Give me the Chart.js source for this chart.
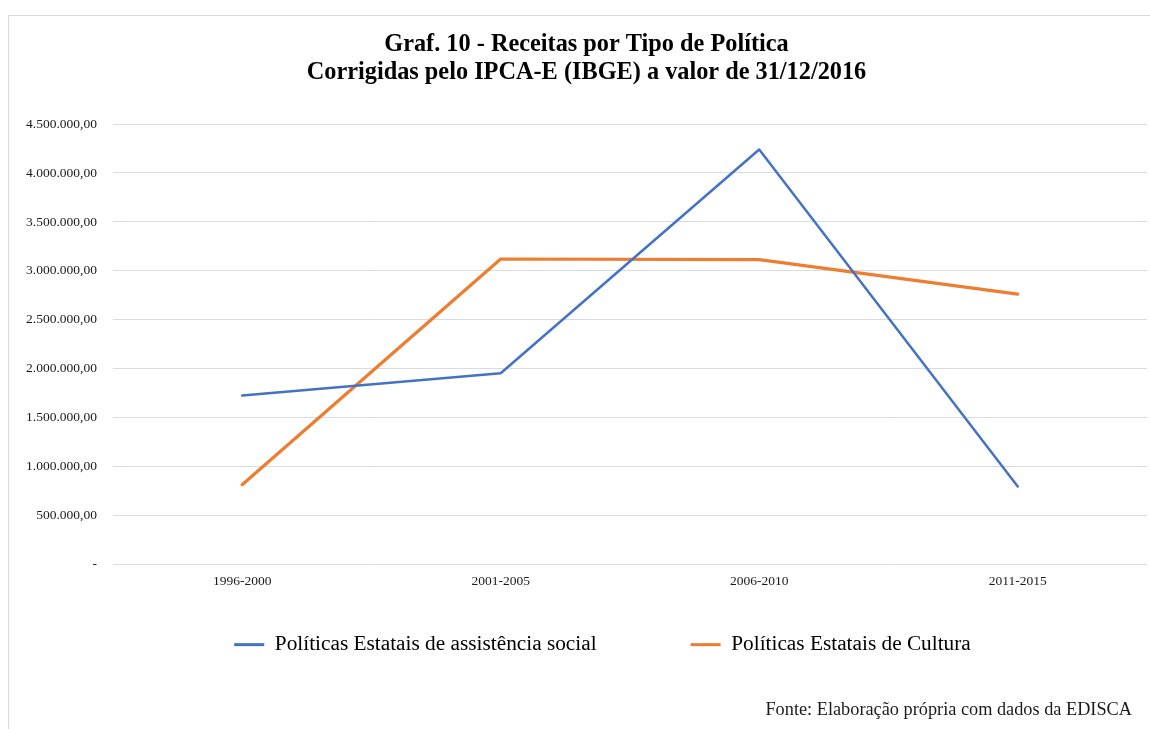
<!DOCTYPE html>
<html>
<head>
<meta charset="utf-8">
<script src="https://cdn.jsdelivr.net/npm/chart.js@4.4.1/dist/chart.umd.min.js"></script>
<style>
  html, body { margin: 0; padding: 0; background: #fff; }
  body { width: 1150px; height: 729px; overflow: hidden; position: relative; }
  #frame { position: absolute; left: 8px; top: 15px; width: 1200px; height: 800px; border: 1px solid #d9d9d9; box-sizing: border-box; }
  #wrap { position: absolute; left: 0; top: 0; width: 1150px; height: 729px; }
</style>
</head>
<body>
<div id="frame"></div>
<div id="wrap"><canvas id="chart"></canvas></div>
<script>
const periods = ['1996-2000', '2001-2005', '2006-2010', '2011-2015'];
const assistenciaSocial = [1728000, 1955000, 4240000, 800000];
const cultura = [818000, 3122000, 3115000, 2764000];
const titleLines = ['Graf. 10 - Receitas por Tipo de Política', 'Corrigidas pelo IPCA-E (IBGE) a valor de 31/12/2016'];
const sourceText = 'Fonte: Elaboração própria com dados da EDISCA';

const serif = '"Liberation Serif", "Times New Roman", serif';

// formato brasileiro: 4.500.000,00 ; zero vira "-"
function fmtBR(v) {
    if (v === 0) return '-';
    const parts = v.toFixed(2).split('.');
    const inteiro = parts[0].replace(/\B(?=(\d{3})+(?!\d))/g, '.');
    return inteiro + ',' + parts[1];
}

// ajustes finos de posicao: titulo, legenda e fonte
const nudge = {
    id: 'nudge',
    afterLayout(chart) {
        const t = chart.titleBlock;
        t.left += 8; t.right += 8;
        const lg = chart.legend;
        lg.left += 24; lg.right += 24;
        lg.top -= 51;
        lg.bottom = lg.top + 200; // a legenda recorta pela propria caixa
        chart.boxes.forEach(b => {
            if (b !== lg && b !== t && !b.axis && b.position === 'bottom') {
                b.left -= 15; b.right -= 15;
            }
        });
    }
};

const ctx = document.getElementById('chart').getContext('2d');
new Chart(ctx, {
    type: 'line',
    data: {
        labels: periods,
        datasets: [{
            label: 'Políticas Estatais de assistência social',
            data: assistenciaSocial,
            borderColor: '#4472C4',
            backgroundColor: '#4472C4',
            borderWidth: 2.5
        }, {
            label: 'Políticas Estatais de Cultura',
            data: cultura,
            borderColor: '#ED7D31',
            backgroundColor: '#ED7D31',
            borderWidth: 3.2
        }]
    },
    options: {
        responsive: true,
        maintainAspectRatio: false,
        animation: false,
        events: [],
        elements: {
            line: { tension: 0, borderCapStyle: 'round', borderJoinStyle: 'round' },
            point: { radius: 0 }
        },
        layout: { padding: { left: 10, right: 3, top: 0, bottom: 0 } },
        scales: {
            x: {
                offset: true,
                grid: { display: false },
                border: { display: false },
                ticks: { font: { family: serif, size: 13.5 }, color: '#1a1a1a', padding: 1, maxRotation: 0 }
            },
            y: {
                min: 0,
                max: 4500000,
                grid: { color: '#d6dbe4', lineWidth: 1, drawTicks: false },
                border: { display: false },
                ticks: {
                    stepSize: 500000,
                    font: { family: serif, size: 13.5 },
                    color: '#1a1a1a',
                    padding: 16,
                    callback: (v) => fmtBR(v)
                }
            }
        },
        plugins: {
            title: {
                display: true,
                text: titleLines,
                color: '#000',
                font: { family: serif, size: 24.3, weight: 'bold', lineHeight: '28px' },
                padding: { top: 31, bottom: 37 }
            },
            subtitle: {
                display: true,
                position: 'bottom',
                align: 'end',
                text: sourceText,
                color: '#1a1a1a',
                font: { family: serif, size: 18.3, lineHeight: '22px' },
                padding: { top: 51, bottom: 8 }
            },
            legend: {
                position: 'bottom',
                maxHeight: 57,
                labels: {
                    boxWidth: 30,
                    boxHeight: 3,
                    padding: 94,
                    color: '#000',
                    font: { family: serif, size: 21.3 },
                    generateLabels(chart) {
                        const items = Chart.defaults.plugins.legend.labels.generateLabels(chart);
                        items.forEach(it => { it.lineWidth = 0; it.fillStyle = it.strokeStyle; });
                        return items;
                    }
                }
            },
            tooltip: { enabled: false }
        }
    },
    plugins: [nudge]
});
</script>
</body>
</html>
